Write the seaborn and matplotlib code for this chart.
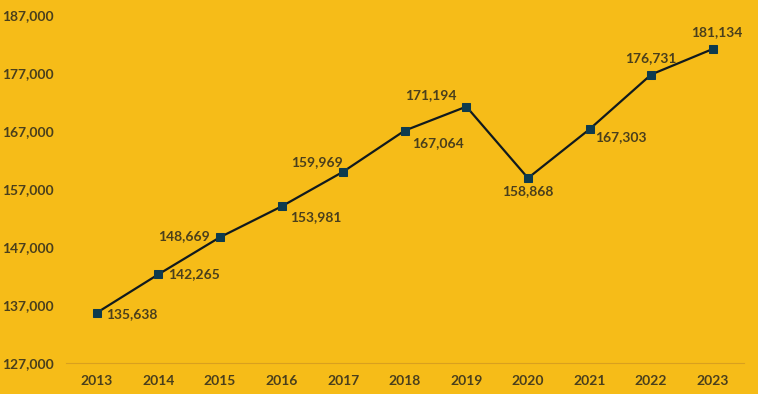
import matplotlib
matplotlib.use("Agg")
import matplotlib.pyplot as plt
import seaborn as sns
import pandas as pd

years = [2013, 2014, 2015, 2016, 2017, 2018, 2019, 2020, 2021, 2022, 2023]
values = [135638, 142265, 148669, 153981, 159969, 167064, 171194, 158868, 167303, 176731, 181134]
yticks = [127000, 137000, 147000, 157000, 167000, 177000, 187000]

# label placement (offset points, ha, va)
label_pos = [
    ((7, -1), "left", "center"),
    ((7, 0), "left", "center"),
    ((-7, 1), "right", "center"),
    ((6, -8), "left", "center"),
    ((0, 7), "right", "center"),
    ((5, -9), "left", "center"),
    ((-7, 8), "right", "center"),
    ((0, -9), "center", "center"),
    ((4, -6), "left", "center"),
    ((0, 12), "center", "center"),
    ((3, 12), "center", "center"),
]

bg = "#F6BC18"
txt = "#4A3F1C"

sns.set_style("white")
plt.rcParams["font.family"] = ["Lato", "DejaVu Sans"]

df = pd.DataFrame({"year": years, "value": values})

fig = plt.figure(figsize=(7.58, 3.94), dpi=100, facecolor=bg)
ax = fig.add_axes([0.087, 0.079, 0.894, 0.883])
ax.set_facecolor(bg)

sns.lineplot(data=df, x="year", y="value", ax=ax, color="#111A1E", linewidth=1.6,
             marker="s", markersize=6, markerfacecolor="#0E3B4E",
             markeredgecolor="#0E3B4E")

for (yr, v), (off, ha, va) in zip(zip(years, values), label_pos):
    ax.annotate(f"{v:,}", (yr, v), xytext=off, textcoords="offset points",
                ha=ha, va=va, fontsize=10, fontweight="bold", color=txt)

ax.set_xlim(years[0] - 0.5, years[-1] + 0.5)
ax.set_ylim(yticks[0], yticks[-1])
ax.set_xticks(years)
ax.set_xticklabels([str(y) for y in years])
ax.set_yticks(yticks)
ax.set_yticklabels([f"{t:,}" for t in yticks])
ax.tick_params(axis="both", length=0, labelsize=10, colors=txt)
for lab in ax.get_xticklabels() + ax.get_yticklabels():
    lab.set_fontweight("bold")
ax.tick_params(axis="x", pad=9)
for s in ["top", "right", "left"]:
    ax.spines[s].set_visible(False)
ax.spines["bottom"].set_color("#D9A01E")
ax.spines["bottom"].set_linewidth(0.8)
ax.set_xlabel("")
ax.set_ylabel("")
for lab in ax.get_yticklabels():
    lab.set_horizontalalignment("left")
ax.yaxis.set_tick_params(pad=46)

fig.savefig("out.png", dpi=100, facecolor=bg)
